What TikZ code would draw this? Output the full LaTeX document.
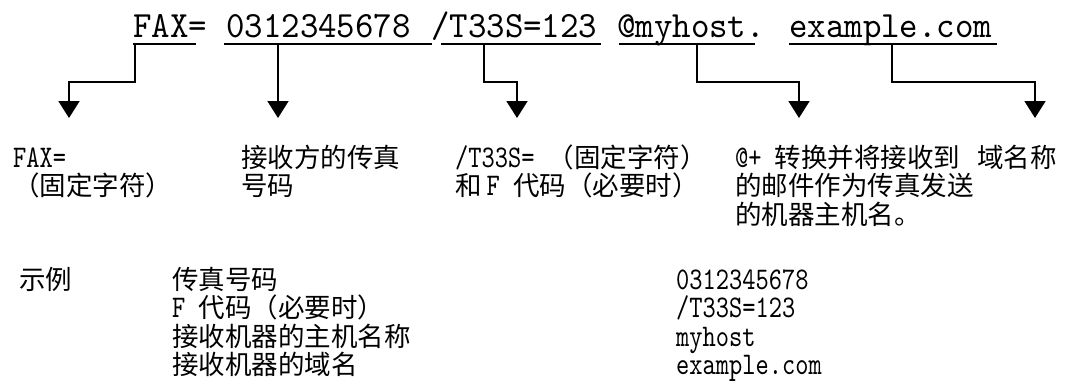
\documentclass[tikz,border=0pt]{standalone}
\usepackage{fontspec}
\usetikzlibrary{arrows.meta}
\newfontfamily\cjk{Noto Sans CJK SC}
\newfontfamily\lat[FakeStretch=0.80]{lmmono10-regular.otf}
\newfontfamily\topfont[FakeStretch=0.95]{lmmono10-regular.otf}
\newcommand\lt[1]{{\lat\fontsize{31.5bp}{28.5bp}\selectfont #1}}
\begin{document}
\begin{tikzpicture}[x=1bp,y=-1bp,
  conn/.style={line width=1.8bp,-{Triangle[width=21bp,length=17bp]}},
  uline/.style={line width=1.4bp},
  toptxt/.style={anchor=base west,inner sep=0pt,font=\topfont\fontsize{37bp}{40bp}\selectfont},
  lbl/.style={anchor=base west,inner sep=0pt,align=left,font=\cjk\fontsize{26.5bp}{28.5bp}\selectfont}]
\fill[white] (0,0) rectangle (1087,382);
\useasboundingbox (0,0) rectangle (1087,382);
% top line
\node[toptxt] (wFax) at (133,37) {FAX=};
\node[toptxt] (wNum) at (226,37) {0312345678};
\node[toptxt] (wF) at (431,37) {/T33S=123};
\node[toptxt] (wHost) at (617,37) {@myhost.};
\node[toptxt] (wDom) at (789,37) {example.com};
\draw[uline] (133,44) -- (196,44);
\draw[uline] (224,44) -- (432,44);
\draw[uline] (441,44) -- (601,44);
\draw[uline] (619,44) -- (755,44);
\draw[uline] (789,44) -- (997,44);
% connector ends
\coordinate (s1) at (135,44); \coordinate (t1) at (69,118);
\coordinate (s2) at (278,44); \coordinate (t2) at (278,118);
\coordinate (s3) at (484,44); \coordinate (t3) at (517,118);
\coordinate (s4) at (697,44); \coordinate (t4) at (799,118);
\coordinate (s5) at (892,44); \coordinate (t5) at (1035,118);
\draw[conn] (s1) -- ++(0,38) -| (t1);
\draw[conn] (s2) -- (t2);
\draw[conn] (s3) -- ++(0,38) -| (t3);
\draw[conn] (s4) -- ++(0,38) -| (t4);
\draw[conn] (s5) -- ++(0,38) -| (t5);
% labels (base anchor = baseline of the last line)
\node[lbl] (l1) at (13,195.5) {\lt{FAX=}\\（固定字符）};
\node[lbl] (l2) at (241,195.5) {接收方的传真\\号码};
\node[lbl] (l3) at (455,195.5) {\lt{/T33S= }（固定字符）\\和\kern5bp\lt{F }代码（必要时）};
\node[lbl] (l4) at (735,224) {\lt{@+ }转换并将接收到\\的邮件作为传真发送\\的机器主机名。};
\node[lbl] (l5) at (977,167) {域名称};
% example
\node[lbl] (ex) at (19,289) {示例};
\node[lbl] (exL) at (172,374.5) {传真号码\\\lt{F }代码（必要时）\\接收机器的主机名称\\接收机器的域名};
\node[lbl] (exR) at (676,374.5) {\lt{0312345678}\\\lt{/T33S=123}\\\lt{myhost}\\\lt{example.com}};
\end{tikzpicture}
\end{document}
